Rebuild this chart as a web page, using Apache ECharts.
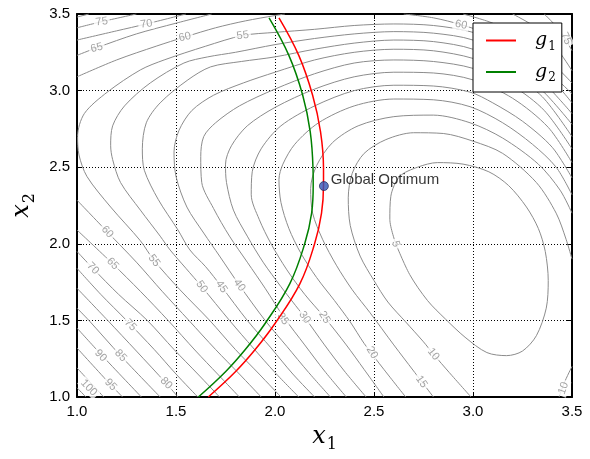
<!DOCTYPE html>
<html>
<head>
<meta charset="utf-8">
<script src="https://cdn.jsdelivr.net/npm/echarts@6/dist/echarts.min.js"></script>
<style>
  html, body { margin: 0; padding: 0; background: #fff; }
  #chart { width: 590px; height: 459px; }
</style>
</head>
<body>
<div id="chart"></div>
<script>
// contour lines, one array of segments per level, points are [x1, x2]
const lv5 = [[[2.61,2.0],[2.58,2.16],[2.585,2.31],[2.63,2.44],[2.72,2.50],[2.82,2.53],[2.95,2.52],[3.08,2.47],[3.18,2.38],[3.27,2.24],[3.33,2.10],[3.365,1.95],[3.38,1.76],[3.37,1.58],[3.32,1.40],[3.25,1.30],[3.17,1.27],[3.07,1.29],[2.96,1.39],[2.86,1.51],[2.77,1.63],[2.68,1.80],[2.61,2.0]]];
const lv10 = [
  [[3.5,1.90],[3.47,2.03],[3.42,2.20],[3.32,2.40],[3.15,2.59],[3.0,2.67],[2.85,2.72],[2.70,2.725],[2.56,2.68],[2.45,2.59],[2.39,2.46],[2.37,2.30],[2.38,2.12],[2.43,1.92],[2.50,1.76],[2.57,1.62],[2.66,1.49],[2.75,1.36],[2.80,1.28],[2.88,1.16],[2.99,1.0]],
  [[3.435,1.0],[3.46,1.09],[3.5,1.2]]
];
const lv15 = [[[3.5,2.20],[3.44,2.35],[3.33,2.52],[3.15,2.69],[2.985,2.79],[2.8,2.84],[2.6,2.83],[2.42,2.77],[2.29,2.66],[2.21,2.51],[2.18,2.36],[2.19,2.20],[2.24,2.03],[2.31,1.86],[2.39,1.70],[2.48,1.55],[2.60,1.34],[2.70,1.17],[2.80,1.0]]];
const lv20 = [[[3.5,2.32],[3.42,2.50],[3.30,2.65],[3.15,2.79],[2.985,2.895],[2.8,2.94],[2.6,2.945],[2.4,2.90],[2.22,2.79],[2.10,2.65],[2.04,2.52],[2.02,2.42],[2.03,2.27],[2.07,2.10],[2.13,1.94],[2.21,1.78],[2.30,1.63],[2.38,1.49],[2.45,1.35],[2.55,1.18],[2.66,1.0]]];
const lv25 = [[[3.5,2.43],[3.40,2.63],[3.25,2.80],[3.1,2.92],[2.985,2.99],[2.8,3.03],[2.6,3.035],[2.4,3.0],[2.2,2.90],[2.03,2.77],[1.93,2.62],[1.885,2.47],[1.88,2.32],[1.92,2.16],[1.98,2.0],[2.06,1.83],[2.15,1.67],[2.25,1.52],[2.36,1.34],[2.45,1.18],[2.55,1.0]]];
const lv30 = [[[3.5,2.53],[3.38,2.76],[3.2,2.95],[3.0,3.07],[2.8,3.115],[2.6,3.12],[2.4,3.09],[2.2,3.01],[2.0,2.89],[1.86,2.77],[1.78,2.64],[1.75,2.52],[1.755,2.40],[1.79,2.22],[1.86,2.05],[1.94,1.88],[2.03,1.72],[2.09,1.62],[2.15,1.52],[2.25,1.34],[2.35,1.17],[2.46,1.0]]];
const lv35 = [[[3.5,2.62],[3.36,2.87],[3.2,3.03],[3.0,3.145],[2.8,3.19],[2.6,3.20],[2.4,3.18],[2.2,3.11],[2.0,3.01],[1.82,2.90],[1.70,2.79],[1.64,2.70],[1.625,2.57],[1.63,2.40],[1.69,2.23],[1.77,2.05],[1.86,1.88],[1.95,1.71],[2.045,1.52],[2.15,1.34],[2.25,1.17],[2.36,1.0]]];
const lv40 = [[[3.5,2.70],[3.35,2.96],[3.2,3.10],[3.0,3.21],[2.8,3.26],[2.6,3.27],[2.4,3.25],[2.2,3.20],[2.0,3.12],[1.84,3.05],[1.69,2.97],[1.58,2.87],[1.515,2.74],[1.49,2.60],[1.50,2.44],[1.555,2.24],[1.64,2.07],[1.72,1.92],[1.82,1.73],[1.95,1.50],[2.06,1.33],[2.17,1.16],[2.28,1.0]]];
const lv45 = [[[3.5,2.78],[3.35,3.00],[3.2,3.14],[3.0,3.27],[2.8,3.32],[2.6,3.33],[2.4,3.31],[2.2,3.27],[2.0,3.22],[1.83,3.19],[1.675,3.155],[1.56,3.07],[1.42,2.92],[1.35,2.79],[1.33,2.62],[1.34,2.48],[1.41,2.29],[1.51,2.09],[1.57,1.96],[1.65,1.85],[1.73,1.72],[1.86,1.50],[1.98,1.32],[2.09,1.15],[2.20,1.0]]];
const lv50 = [[[3.5,2.85],[3.35,3.06],[3.2,3.20],[3.0,3.33],[2.8,3.375],[2.6,3.385],[2.4,3.37],[2.2,3.34],[2.0,3.30],[1.8,3.25],[1.66,3.22],[1.54,3.18],[1.37,3.05],[1.24,2.90],[1.18,2.77],[1.17,2.64],[1.18,2.55],[1.22,2.40],[1.32,2.22],[1.42,2.05],[1.47,1.96],[1.55,1.84],[1.63,1.72],[1.77,1.50],[1.89,1.32],[2.0,1.16],[2.12,1.0]]];
const lv55 = [[[3.5,2.92],[3.35,3.14],[3.2,3.27],[3.0,3.38],[2.8,3.425],[2.6,3.435],[2.4,3.425],[2.2,3.40],[2.0,3.38],[1.837,3.36],[1.65,3.29],[1.44,3.20],[1.32,3.135],[1.153,2.99],[1.037,2.85],[1.003,2.70],[1.01,2.58],[1.05,2.44],[1.17,2.24],[1.32,2.02],[1.39,1.89],[1.52,1.70],[1.67,1.50],[1.80,1.31],[1.92,1.15],[2.03,1.0]]];
const lv60 = [
  [[1.0,3.09],[1.2,3.20],[1.4,3.29],[1.545,3.35],[1.7,3.41],[1.85,3.455],[2.0,3.49],[2.05,3.5]],
  [[2.65,3.5],[2.8,3.475],[2.94,3.43],[3.1,3.36],[3.25,3.25],[3.4,3.10],[3.5,2.98]],
  [[1.0,2.285],[1.153,2.078],[1.30,1.88],[1.43,1.69],[1.565,1.50],[1.70,1.31],[1.82,1.15],[1.93,1.0]]
];
const lv65 = [
  [[1.0,3.23],[1.10,3.28],[1.3,3.37],[1.5,3.44],[1.68,3.5]],
  [[2.95,3.5],[3.1,3.44],[3.25,3.34],[3.4,3.18],[3.5,3.05]],
  [[1.0,2.09],[1.18,1.87],[1.32,1.69],[1.46,1.50],[1.60,1.30],[1.71,1.15],[1.82,1.0]]
];
const lv70 = [
  [[1.0,3.33],[1.2,3.39],[1.35,3.435],[1.55,3.5]],
  [[3.2,3.5],[3.32,3.41],[3.42,3.28],[3.5,3.13]],
  [[1.0,1.95],[1.08,1.84],[1.21,1.67],[1.355,1.50],[1.49,1.31],[1.61,1.15],[1.72,1.0]]
];
const lv75 = [
  [[1.0,3.41],[1.125,3.45],[1.30,3.5]],
  [[3.36,3.5],[3.44,3.39],[3.5,3.26]],
  [[1.0,1.84],[1.12,1.67],[1.25,1.50],[1.39,1.31],[1.50,1.15],[1.61,1.0]]
];
const lv80 = [
  [[1.0,3.48],[1.06,3.5]],
  [[1.0,1.71],[1.155,1.50],[1.30,1.30],[1.45,1.09],[1.51,1.0]]
];
const lv85 = [[[1.0,1.58],[1.06,1.50],[1.22,1.27],[1.42,1.0]]];
const lv90 = [[[1.0,1.45],[1.12,1.28],[1.325,1.0]]];
const lv95 = [[[1.0,1.32],[1.17,1.08],[1.23,1.0]]];
const lv100 = [[[1.0,1.19],[1.135,1.0]]];
const lv105 = [[[1.0,1.06],[1.045,1.0]]];

// inline contour labels: x1, x2, text, angle
const contourLabels = [
  [1.125,3.45,'75',8],[1.35,3.435,'70',8],[1.10,3.28,'65',14],[1.545,3.35,'60',12],[1.837,3.36,'55',8],
  [2.94,3.43,'60',-12],[3.47,3.34,'75',-65],
  [1.153,2.078,'60',-47],[1.18,1.87,'65',-46],[1.08,1.84,'70',-46],[1.39,1.89,'55',-52],
  [1.63,1.72,'50',-55],[1.73,1.72,'45',-55],[1.82,1.73,'40',-55],
  [1.27,1.47,'75',-46],[1.12,1.27,'90',-46],[1.22,1.27,'85',-46],[1.17,1.08,'95',-46],
  [1.06,1.06,'100',-46],[1.45,1.09,'80',-46],
  [2.04,1.51,'35',-56],[2.15,1.52,'30',-56],[2.25,1.52,'25',-58],[2.49,1.29,'20',-58],
  [2.74,1.10,'15',-55],[2.80,1.28,'10',-52],[3.457,1.057,'10',70],[2.61,2.0,'5',-75]
];

// constraint curves
const g1 = [[1.663,1.0],[1.80,1.165],[1.90,1.31],[2.0,1.48],[2.126,1.74],[2.20,2.0],[2.235,2.2],[2.245,2.385],[2.245,2.49],[2.23,2.73],[2.19,2.97],[2.12,3.23],[2.02,3.475]];
const g2 = [[1.613,1.0],[1.75,1.165],[1.85,1.31],[1.95,1.48],[2.075,1.74],[2.15,2.0],[2.185,2.2],[2.193,2.385],[2.192,2.49],[2.178,2.73],[2.14,2.97],[2.07,3.23],[1.97,3.475]];
const optimum = [2.247, 2.377];

const levels = [lv5, lv10, lv15, lv20, lv25, lv30, lv35, lv40, lv45, lv50, lv55, lv60, lv65, lv70, lv75, lv80, lv85, lv90, lv95, lv100, lv105];

const serif = 'DejaVu Serif';
const sans = 'Liberation Sans';
const mathRich = {
  i: { fontFamily: serif, fontStyle: 'italic', fontSize: 24, color: '#000' },
  s: { fontFamily: serif, fontSize: 16, color: '#000', padding: [16, 0, 0, 1] }
};
const legendRich = {
  i: { fontFamily: serif, fontStyle: 'italic', fontSize: 19, color: '#000' },
  s: { fontFamily: serif, fontSize: 12, color: '#000', padding: [12, 0, 0, 1] }
};

let series = [];
levels.forEach(function (segs) {
  segs.forEach(function (seg) {
    series.push({
      type: 'line', data: seg, smooth: 0.3, symbol: 'none', silent: true, z: 2,
      lineStyle: { color: '#8c8c8c', width: 1 }
    });
  });
});

series.push({
  type: 'scatter', symbolSize: 0, silent: true, z: 3,
  data: contourLabels.map(function (p) {
    return { value: [p[0], p[1]], label: { formatter: p[2], rotate: p[3] } };
  }),
  label: {
    show: true, position: 'inside', color: '#8c8c8c', fontSize: 11, fontFamily: sans,
    backgroundColor: '#fff', padding: [0, 2]
  }
});

series.push({ name: 'g1', type: 'line', data: g1, smooth: 0.4, symbol: 'none', z: 4, color: '#ff0000', lineStyle: { color: '#ff0000', width: 1.5 } });
series.push({ name: 'g2', type: 'line', data: g2, smooth: 0.4, symbol: 'none', z: 4, color: '#008000', lineStyle: { color: '#008000', width: 1.5 } });
series.push({
  type: 'scatter', data: [optimum], symbolSize: 9, z: 5,
  itemStyle: { color: '#2f55b5', borderColor: '#1a1a4a', borderWidth: 0.8 },
  label: { show: true, position: 'right', distance: 2, offset: [0, -6], formatter: 'Global Optimum', color: '#000', fontSize: 15, fontFamily: sans }
});

const tickAxis = {
  type: 'value', min: 1, max: 3.5, interval: 0.5,
  axisLine: { show: true, lineStyle: { color: '#000', width: 2 } },
  axisTick: { show: true, inside: true, length: 5, lineStyle: { color: '#000' } },
  axisLabel: { show: false }, splitLine: { show: false }
};

let option = {
  animation: false,
  backgroundColor: '#fff',
  grid: { left: 77, right: 18, top: 14, bottom: 62 },
  xAxis: [
    Object.assign({}, tickAxis, {
      position: 'bottom',
      axisLabel: { show: true, color: '#000', fontSize: 15, fontFamily: sans, margin: 7, formatter: function (v) { return v.toFixed(1); } },
      splitLine: { show: true, lineStyle: { color: '#000', type: [1, 2], width: 1 } },
      name: '{i|x}{s|1}', nameLocation: 'middle', nameGap: 24, nameTextStyle: { rich: mathRich }
    }),
    Object.assign({}, tickAxis, { position: 'top' })
  ],
  yAxis: [
    Object.assign({}, tickAxis, {
      position: 'left',
      axisLabel: { show: true, color: '#000', fontSize: 15, fontFamily: sans, margin: 7, formatter: function (v) { return v.toFixed(1); } },
      splitLine: { show: true, lineStyle: { color: '#000', type: [1, 2], width: 1 } },
      name: '{i|x}{s|2}', nameLocation: 'middle', nameGap: 30, nameTextStyle: { rich: mathRich }
    }),
    Object.assign({}, tickAxis, { position: 'right' })
  ],
  legend: {
    data: ['g1', 'g2'], orient: 'vertical', left: 473, top: 23, z: 10,
    backgroundColor: '#fff', borderColor: '#000', borderWidth: 1, borderRadius: 0,
    padding: [8, 6, 8, 13], itemGap: 10, itemWidth: 30, itemHeight: 2, icon: 'rect',
    formatter: function (name) { return '{i|g}{s|' + name.slice(1) + '}'; },
    textStyle: { rich: legendRich, padding: [0, 0, 0, 14] }
  },
  series: series
};

let myChart = echarts.init(document.getElementById('chart'));
myChart.setOption(option);
</script>
</body>
</html>
